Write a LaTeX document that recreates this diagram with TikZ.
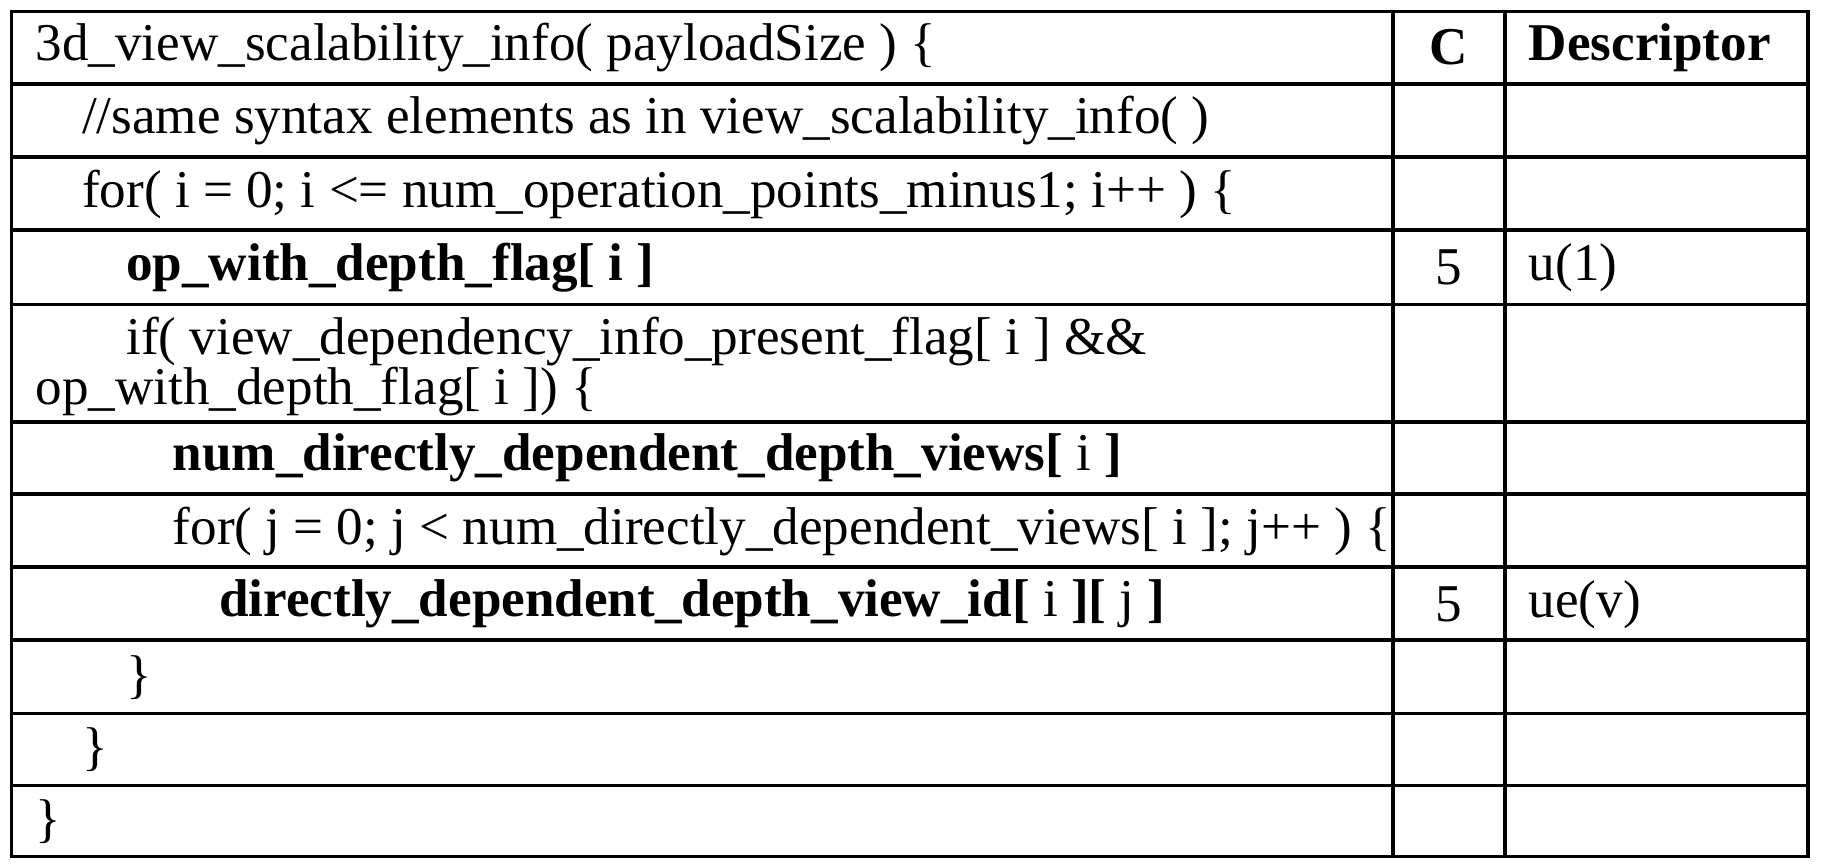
\documentclass[tikz,border=0pt]{standalone}
\usepackage{fontspec}
\setmainfont{Liberation Serif}
\begin{document}
\begin{tikzpicture}[x=0.01cm,y=-0.01cm,
  t/.style={anchor=west,inner sep=0pt,font=\fontsize{13}{15}\selectfont},
  tc/.style={inner sep=0pt,font=\fontsize{13}{15}\selectfont},
  grid/.style={line width=0.9pt}]
\useasboundingbox (0,0) rectangle (1568,744);
\draw[grid] (10,10) rectangle (1556,737);
\foreach \y in {72,135,198,262,363,425,488,551,614,676} \draw[grid] (10,\y) -- (1556,\y);
\draw[grid] (1199,10) -- (1199,737);
\draw[grid] (1295,10) -- (1295,737);
\node[t] (r1) at (30,41) {3d\_view\_scalability\_info( payloadSize ) \{};
\node[tc] (c1) at (1247,41) {\textbf{C}};
\node[t] (d1) at (1315,41) {\textbf{Descriptor}};
\node[t] (r2) at (70,104) {//same syntax elements as in view\_scalability\_info( )};
\node[t] (r3) at (70,167) {for( i = 0; i <= num\_operation\_points\_minus1; i++ ) \{};
\node[t] (r4) at (108,230) {\textbf{op\_with\_depth\_flag[ i ]}};
\node[tc] (c4) at (1247,230) {5};
\node[t] (d4) at (1315,230) {u(1)};
\node[t] (r5a) at (108,294) {if( view\_dependency\_info\_present\_flag[ i ] \&\&};
\node[t] (r5b) at (30,337) {op\_with\_depth\_flag[ i ]) \{};
\node[t] (r6) at (148,394) {\textbf{num\_directly\_dependent\_depth\_views[} i \textbf{]}};
\node[t] (r7) at (148,457) {for( j = 0; j < num\_directly\_dependent\_views[ i ]; j++ ) \{};
\node[t] (r8) at (188,520) {\textbf{directly\_dependent\_depth\_view\_id[} i \textbf{][} j \textbf{]}};
\node[tc] (c8) at (1247,520) {5};
\node[t] (d8) at (1315,520) {ue(v)};
\node[t] (r9) at (108,583) {\}};
\node[t] (r10) at (70,645) {\}};
\node[t] (r11) at (30,707) {\}};
\end{tikzpicture}
\end{document}
